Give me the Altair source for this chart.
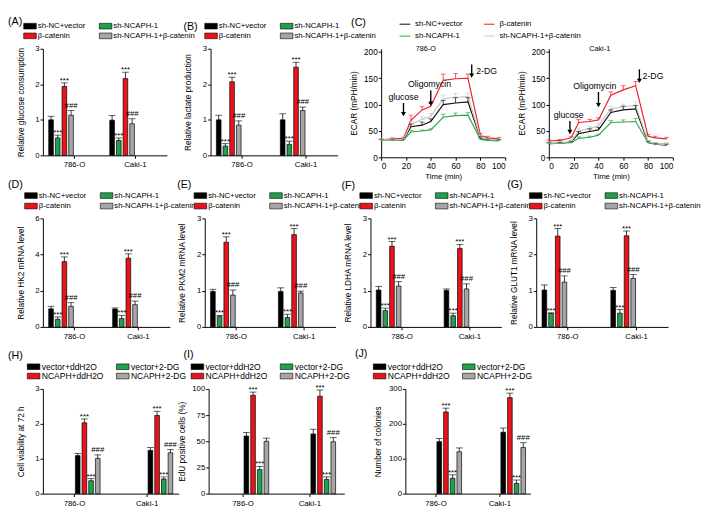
import altair as alt
import pandas as pd

FONT = "Liberation Sans"
GROUPS = ["786-O", "Caki-1"]

# ---- conditions / colours ----
COND_KD = ["sh-NC+vector", "sh-NCAPH-1", "β-catenin", "sh-NCAPH-1+β-catenin"]
LEG_KD = ["sh-NC+vector", "β-catenin", "sh-NCAPH-1", "sh-NCAPH-1+β-catenin"]
COL_LEG_KD = ["#000000", "#e8141c", "#22a04c", "#a6a6a6"]
COND_OE = ["vector+ddH2O", "NCAPH+ddH2O", "vector+2-DG", "NCAPH+2-DG"]
LEG_OE = ["vector+ddH2O", "NCAPH+ddH2O", "vector+2-DG", "NCAPH+2-DG"]
COL_LEG_OE = ["#000000", "#e8141c", "#22a04c", "#a6a6a6"]

SIG_FULL = ["", "***", "***", "###"]
SIG_NOHASH = ["", "***", "***", ""]

# ---- bar data (786-O, Caki-1) ----
A_786 = [1.00, 0.49, 1.94, 1.13]; A_786_ERR = [0.10, 0.08, 0.10, 0.13]
A_CAKI = [0.99, 0.42, 2.16, 0.89]; A_CAKI_ERR = [0.13, 0.07, 0.18, 0.14]
B_786 = [1.00, 0.26, 2.07, 0.85]; B_786_ERR = [0.13, 0.07, 0.13, 0.12]
B_CAKI = [1.00, 0.31, 2.48, 1.26]; B_CAKI_ERR = [0.17, 0.09, 0.14, 0.10]
D_786 = [1.00, 0.42, 3.61, 1.14]; D_786_ERR = [0.14, 0.13, 0.26, 0.20]
D_CAKI = [0.99, 0.46, 3.80, 1.23]; D_CAKI_ERR = [0.06, 0.18, 0.24, 0.20]
E_786 = [0.98, 0.29, 2.34, 0.88]; E_786_ERR = [0.06, 0.03, 0.15, 0.14]
E_CAKI = [0.98, 0.26, 2.55, 0.94]; E_CAKI_ERR = [0.10, 0.09, 0.17, 0.05]
F_786 = [1.02, 0.45, 2.23, 1.13]; F_786_ERR = [0.10, 0.07, 0.13, 0.12]
F_CAKI = [1.01, 0.31, 2.17, 1.05]; F_CAKI_ERR = [0.04, 0.07, 0.11, 0.14]
G_786 = [1.02, 0.37, 2.51, 1.24]; G_786_ERR = [0.14, 0.02, 0.21, 0.17]
G_CAKI = [1.01, 0.38, 2.52, 1.34]; G_CAKI_ERR = [0.08, 0.10, 0.13, 0.11]
H_786 = [1.09, 2.03, 0.37, 1.01]; H_786_ERR = [0.06, 0.11, 0.06, 0.10]
H_CAKI = [1.24, 2.24, 0.42, 1.17]; H_CAKI_ERR = [0.08, 0.12, 0.06, 0.09]
I_786 = [55, 94, 23, 50]; I_786_ERR = [3.5, 3, 3, 3]
I_CAKI = [57, 93, 13.5, 49.5]; I_CAKI_ERR = [4.5, 6, 2.5, 4]
J_786 = [149, 234, 44, 120]; J_786_ERR = [9, 11, 10, 11]
J_CAKI = [176, 275, 29, 132]; J_CAKI_ERR = [12, 13, 10, 14]

# ---- ECAR data ----
C_TIME = [0, 9, 18, 24, 33, 40, 50, 60, 70, 80, 86, 95]
C_CONDS = ["sh-NC+vector", "β-catenin", "sh-NCAPH-1", "sh-NCAPH-1+β-catenin"]
C_LEG = ["sh-NC+vector", "sh-NCAPH-1", "β-catenin", "sh-NCAPH-1+β-catenin"]
C_COL = ["#111111", "#2ca84c", "#ef1f25", "#c8c8c8"]
C786_NC = [32, 32, 33, 58, 61, 68, 100, 103, 105, 36, 33, 32]
C786_NC_ERR = [2, 2, 2, 5, 6, 5, 8, 10, 8, 3, 2, 2]
C786_BC = [33, 35, 36, 70, 90, 97, 146, 149, 150, 42, 37, 35]
C786_BC_ERR = [2, 2, 2, 10, 6, 5, 12, 10, 8, 3, 3, 3]
C786_SH = [32, 32, 33, 48, 50, 52, 76, 79, 80, 34, 32, 31]
C786_SH_ERR = [2, 2, 2, 3, 2, 2, 6, 5, 5, 2, 2, 2]
C786_SHBC = [33, 33, 34, 63, 72, 78, 111, 114, 115, 38, 34, 33]
C786_SHBC_ERR = [2, 2, 2, 5, 5, 5, 7, 7, 7, 3, 2, 2]
CCAKI_NC = [26, 27, 29, 45, 49, 52, 85, 90, 92, 28, 25, 23]
CCAKI_NC_ERR = [2, 2, 2, 4, 5, 5, 5, 7, 6, 3, 2, 2]
CCAKI_BC = [31, 32, 37, 66, 68, 71, 118, 128, 136, 40, 37, 35]
CCAKI_BC_ERR = [2, 2, 2, 6, 4, 4, 6, 8, 8, 3, 3, 3]
CCAKI_SH = [26, 27, 28, 36, 38, 42, 66, 67, 68, 28, 25, 25]
CCAKI_SH_ERR = [1, 1, 1, 3, 2, 2, 4, 4, 6, 2, 2, 2]
CCAKI_SHBC = [27, 28, 30, 50, 55, 60, 92, 96, 99, 30, 26, 24]
CCAKI_SHBC_ERR = [2, 2, 2, 4, 4, 4, 5, 5, 6, 2, 2, 2]

# annotations (data units): label, arrow time, text time, text y, arrow top, arrow tip
ANN_786_LABEL = ["glucose", "Oligomycin", "2-DG"]
ANN_786_T = [18, 40, 73]
ANN_786_TEXT_T = [18, 39, 85]
ANN_786_TEXT_Y = [114, 139, 164]
ANN_786_Y1 = [103, 127, 176]
ANN_786_Y2 = [82, 102, 155]
ANN_CAKI_LABEL = ["glucose", "Oligomycin", "2-DG"]
ANN_CAKI_T = [17, 40, 73]
ANN_CAKI_TEXT_T = [16, 37, 84]
ANN_CAKI_TEXT_Y = [81, 135, 154]
ANN_CAKI_Y1 = [69, 124, 167]
ANN_CAKI_Y2 = [48, 99, 145]
CELL_LABEL_T = [36, 41]

RECT = "M-2,-0.9H2V0.9H-2Z"


def title(tag, dx, off):
    return alt.TitleParams(tag, anchor="start", frame="group", dx=dx, offset=off,
                           fontSize=11, font=FONT, fontWeight="normal", color="black")


def bar_panel(tag, ytitle, conds, leg_dom, leg_col, m786, e786, mcaki, ecaki,
              sig786, sigcaki, ydom, yvals, width, height, outer, legx, legy, rowpad,
              tdx, toff, tpad=10, legfs=8, colpad=12, grid="none", laboff=4):
    rows = []
    for g, ms, es, ss in ((GROUPS[0], m786, e786, sig786), (GROUPS[1], mcaki, ecaki, sigcaki)):
        for c, m, e, s in zip(conds, ms, es, ss):
            rows.append(dict(group=g, cond=c, v=m, top=m + e, sig=s))
    df = pd.DataFrame(rows)
    span = 53.0
    gap = width - 2 * span - 2 * outer
    step = span + gap
    xs = alt.Scale(domain=GROUPS, paddingInner=gap / step, paddingOuter=outer / step)
    sub = (span - 10) / 3
    os_ = alt.Scale(domain=conds, paddingInner=1 - 10 / sub, paddingOuter=0)
    xax = alt.Axis(title=None, labelAngle=0, labelPadding=3, tickSize=3, labelFontSize=8)
    yax = alt.Axis(values=yvals, title=ytitle, titlePadding=tpad, tickSize=3, labelPadding=1,
                   labelFontSize=8, titleFontSize=8.5)
    ys = alt.Scale(domain=ydom, nice=False)
    base = alt.Chart(df).encode(
        x=alt.X("group:N", scale=xs, axis=xax, sort=GROUPS),
        xOffset=alt.XOffset("cond:N", scale=os_, sort=conds),
    )
    legend = alt.Legend(title=None, orient="none", legendX=legx, legendY=legy, columns=2,
                        gridAlign=grid, symbolType=RECT, symbolSize=42.25,
                        symbolStrokeColor="black", symbolStrokeWidth=0.6,
                        labelFontSize=legfs, labelFont=FONT, labelColor="black",
                        labelOffset=laboff, columnPadding=colpad, rowPadding=rowpad,
                        padding=0, labelLimit=300)
    bars = base.mark_bar(stroke="black", strokeWidth=0.7).encode(
        y=alt.Y("v:Q", scale=ys, axis=yax),
        color=alt.Color("cond:N", scale=alt.Scale(domain=leg_dom, range=leg_col), legend=legend),
    )
    rule = base.mark_rule(color="black", strokeWidth=0.8).encode(
        y=alt.Y("v:Q", scale=ys, axis=yax), y2="top:Q")
    cap = base.mark_tick(color="black", thickness=0.9, size=7, orient="horizontal").encode(
        y=alt.Y("top:Q", scale=ys, axis=yax))
    stars = base.transform_filter(alt.datum.sig == "***").mark_text(
        font=FONT, fontSize=8, baseline="alphabetic", dy=0, color="black").encode(
        y=alt.Y("top:Q", scale=ys, axis=yax), text="sig:N")
    hashes = base.transform_filter(alt.datum.sig == "###").mark_text(
        font=FONT, fontSize=8, baseline="alphabetic", dy=-3, color="black").encode(
        y=alt.Y("top:Q", scale=ys, axis=yax), text="sig:N")
    return alt.layer(bars, rule, cap, stars, hashes).properties(
        width=width, height=height, title=title(tag, tdx, toff))


def ecar_panel(cell, cell_t, series, errs, ann, width, height, show_legend, tag=None):
    rows = []
    for cond, vals, ers in zip(C_CONDS, series, errs):
        for t, v, e in zip(C_TIME, vals, ers):
            rows.append(dict(t=t, cond=cond, v=v, top=v + e))
    df = pd.DataFrame(rows)
    xs = alt.Scale(domain=[0, 100], nice=False)
    ys = alt.Scale(domain=[0, 206], nice=False)
    xax = alt.Axis(values=[0, 20, 40, 60, 80, 100], title="Time (min)", labelFontSize=8.5,
                   titleFontSize=8, tickSize=3, labelPadding=2, titlePadding=2)
    yax = alt.Axis(values=[0, 50, 100, 150, 200], title="ECAR (mPH/min)", labelFontSize=8.5,
                   titleFontSize=8.5, tickSize=3, labelPadding=1, titlePadding=5)
    if show_legend:
        legend = alt.Legend(title=None, orient="none", legendX=18, legendY=-32, columns=2,
                            symbolType="stroke", symbolSize=121, symbolStrokeWidth=1.5,
                            labelFontSize=8, labelFont=FONT, labelColor="black", labelOffset=4,
                            columnPadding=18, rowPadding=1.5, padding=0, labelLimit=300)
    else:
        legend = None
    color = alt.Color("cond:N", scale=alt.Scale(domain=C_LEG, range=C_COL), legend=legend)
    base = alt.Chart(df).encode(x=alt.X("t:Q", scale=xs, axis=xax))
    lines = base.mark_line(strokeWidth=1.2).encode(y=alt.Y("v:Q", scale=ys, axis=yax), color=color)
    erule = base.mark_rule(strokeWidth=0.8).encode(y=alt.Y("v:Q", scale=ys, axis=yax), y2="top:Q", color=color)
    ecap = base.mark_tick(thickness=0.9, size=5, orient="horizontal").encode(
        y=alt.Y("top:Q", scale=ys, axis=yax), color=color)
    label, t_arrow, t_text, y_text, y1, y2 = ann
    adf = pd.DataFrame(dict(label=label, ta=t_arrow, tt=t_text, yt=y_text, y1=y1, y2=y2))
    abase = alt.Chart(adf)
    shafts = abase.mark_rule(color="black", strokeWidth=1.4).encode(
        x=alt.X("ta:Q", scale=xs, axis=xax), y=alt.Y("y1:Q", scale=ys, axis=yax), y2="y2:Q")
    heads = abase.mark_point(shape="triangle-down", filled=True, color="black", size=26, opacity=1).encode(
        x=alt.X("ta:Q", scale=xs, axis=xax), y=alt.Y("y2:Q", scale=ys, axis=yax))
    texts = abase.mark_text(font=FONT, fontSize=9, color="black", baseline="middle").encode(
        x=alt.X("tt:Q", scale=xs, axis=xax), y=alt.Y("yt:Q", scale=ys, axis=yax), text="label:N")
    cdf = pd.DataFrame(dict(t=[cell_t], v=[200], label=[cell]))
    celltxt = alt.Chart(cdf).mark_text(font=FONT, fontSize=7.5, color="black", baseline="middle", dy=-3).encode(
        x=alt.X("t:Q", scale=xs, axis=xax), y=alt.Y("v:Q", scale=ys, axis=yax), text="label:N")
    ch = alt.layer(lines, erule, ecap, shafts, heads, texts, celltxt).properties(width=width, height=height)
    if tag:
        ch = ch.properties(title=title(tag, -31, -10.8))
    return ch


def indep(c):
    return c.resolve_scale(color="independent").resolve_legend(color="independent")


A = bar_panel("(A)", "Relative glucose consumption", COND_KD, LEG_KD, COL_LEG_KD,
              A_786, A_786_ERR, A_CAKI, A_CAKI_ERR, SIG_FULL, SIG_FULL,
              [0, 3], [0, 1, 2, 3], 128, 110, 6, -17.3, -27.3, 0, -36, -4.8)
B = bar_panel("(B)", "Relative lactate production", COND_KD, LEG_KD, COL_LEG_KD,
              B_786, B_786_ERR, B_CAKI, B_CAKI_ERR, SIG_FULL, SIG_FULL,
              [0, 3], [0, 1, 2, 3], 131, 110, 6, -3.5, -27.3, 0, -28, -9.8)
C1 = ecar_panel("786-O", CELL_LABEL_T[0], [C786_NC, C786_BC, C786_SH, C786_SHBC],
                [C786_NC_ERR, C786_BC_ERR, C786_SH_ERR, C786_SHBC_ERR],
                (ANN_786_LABEL, ANN_786_T, ANN_786_TEXT_T, ANN_786_TEXT_Y, ANN_786_Y1, ANN_786_Y2),
                128, 112, True, "(C)")
C2 = ecar_panel("Caki-1", CELL_LABEL_T[1], [CCAKI_NC, CCAKI_BC, CCAKI_SH, CCAKI_SHBC],
                [CCAKI_NC_ERR, CCAKI_BC_ERR, CCAKI_SH_ERR, CCAKI_SHBC_ERR],
                (ANN_CAKI_LABEL, ANN_CAKI_T, ANN_CAKI_TEXT_T, ANN_CAKI_TEXT_Y, ANN_CAKI_Y1, ANN_CAKI_Y2),
                128, 112, False)

D = bar_panel("(D)", "Relative HK2 mRNA level", COND_KD, LEG_KD, COL_LEG_KD,
              D_786, D_786_ERR, D_CAKI, D_CAKI_ERR, SIG_FULL, SIG_FULL,
              [0, 6], [0, 2, 4, 6], 131, 112, 6, -16.3, -27.5, 0.8, -36, 2)
E = bar_panel("(E)", "Relative PKM2 mRNA level", COND_KD, LEG_KD, COL_LEG_KD,
              E_786, E_786_ERR, E_CAKI, E_CAKI_ERR, SIG_FULL, SIG_FULL,
              [0, 3], [0, 1, 2, 3], 135, 112, 6, -8.5, -27.5, 0.8, -28.5, 2)
F = bar_panel("(F)", "Relative LDHA mRNA level", COND_KD, LEG_KD, COL_LEG_KD,
              F_786, F_786_ERR, F_CAKI, F_CAKI_ERR, SIG_FULL, SIG_FULL,
              [0, 3], [0, 1, 2, 3], 135, 112, 6, -8.5, -27.5, 0.8, -30, 0.5)
G = bar_panel("(G)", "Relative GLUT1 mRNA level", COND_KD, LEG_KD, COL_LEG_KD,
              G_786, G_786_ERR, G_CAKI, G_CAKI_ERR, SIG_FULL, SIG_FULL,
              [0, 3], [0, 1, 2, 3], 136, 112, 6, -4.5, -27.5, 0.8, -30, 2)

H = bar_panel("(H)", "Cell viability at 72 h", COND_OE, LEG_OE, COL_LEG_OE,
              H_786, H_786_ERR, H_CAKI, H_CAKI_ERR, SIG_FULL, SIG_FULL,
              [0, 3], [0, 1, 2, 3], 140, 108, 6, -14, -27.7, 0, -36, 1,
              legfs=8.8, colpad=11, grid="each")
I = bar_panel("(I)", "EdU positive cells (%)", COND_OE, LEG_OE, COL_LEG_OE,
              I_786, I_786_ERR, I_CAKI, I_CAKI_ERR, SIG_NOHASH, SIG_FULL,
              [0, 100], [0, 25, 50, 75, 100], 140, 108, 9, -16, -27.7, 0, -26, 2,
              tpad=6, legfs=8.8, colpad=11, grid="each")
J = bar_panel("(J)", "Number of colonies", COND_OE, LEG_OE, COL_LEG_OE,
              J_786, J_786_ERR, J_CAKI, J_CAKI_ERR, SIG_NOHASH, SIG_FULL,
              [0, 300], [0, 100, 200, 300], 129, 108, 5, -31, -27.7, 0, -52, 3,
              tpad=6, legfs=8.8, colpad=11, grid="each")

spacer = alt.Chart(pd.DataFrame({"s": [0]})).mark_point(opacity=0).encode(
    x=alt.value(0), y=alt.value(0)).properties(width=1, height=108)

row1 = indep(alt.hconcat(A, B, C1, C2, spacing=45, bounds="flush"))
row2 = indep(alt.hconcat(D, E, F, G, spacing=36, bounds="flush"))
row3 = indep(alt.hconcat(H, I, spacer, J, spacing=31, bounds="flush"))

top_rows = indep(alt.vconcat(row1, row2, spacing=-2))
chart = indep(alt.vconcat(top_rows, row3, spacing=8)).properties(
    padding=0, background="white"
).configure_axis(
    labelFont=FONT, titleFont=FONT, labelColor="black", titleColor="black",
    domainColor="black", tickColor="black", grid=False, titleFontWeight="normal",
    domainWidth=1, tickWidth=1
).configure_view(stroke=None).configure_legend(labelFont=FONT)

chart.save("out.html", embed_options={"renderer": "svg", "actions": False})
